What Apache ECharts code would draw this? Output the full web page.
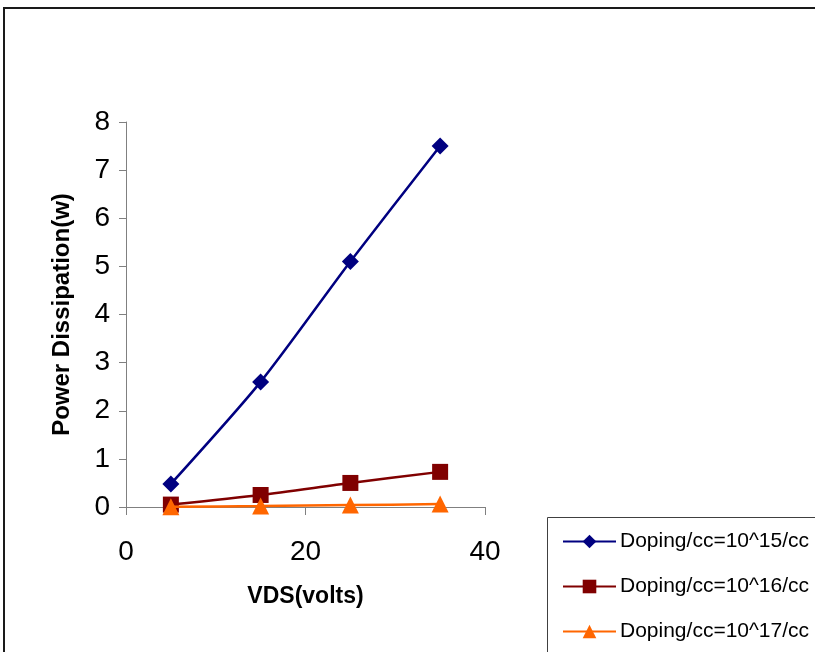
<!DOCTYPE html>
<html>
<head>
<meta charset="utf-8">
<script src="https://cdn.jsdelivr.net/npm/echarts@6/dist/echarts.min.js"></script>
<style>html,body{margin:0;padding:0;background:#fff}#c{width:815px;height:652px}</style>
</head>
<body>
<div id="c"></div>
<script>
var vds = [5, 15, 25, 35];
var doping15 = [0.48, 2.6, 5.1, 7.5];
var doping16 = [0.05, 0.25, 0.5, 0.73];
var doping17 = [0.005, 0.02, 0.04, 0.06];
var seriesNames = ['Doping/cc=10^15/cc', 'Doping/cc=10^16/cc', 'Doping/cc=10^17/cc'];
var xTitle = 'VDS(volts)';
var yTitle = 'Power Dissipation(w)';

function pairs(ys){ return vds.map(function(x,i){ return [x, ys[i]]; }); }

var chart = echarts.init(document.getElementById('c'), null, {renderer:'canvas'});
var font = 'Arial, "Liberation Sans", sans-serif';
chart.setOption({
  animation: false,
  backgroundColor: '#fff',
  textStyle: {fontFamily: font},
  graphic: [
    {type:'rect', shape:{x:4, y:8, width:830, height:670}, style:{fill:'none', stroke:'#1a1a1a', lineWidth:2}, z:-1},
    {type:'rect', shape:{x:547.5, y:517.5, width:300, height:160}, style:{fill:'#fff', stroke:'#404040', lineWidth:1}, z:0}
  ],
  grid: {left:126, right:330, top:122, bottom:145},
  xAxis: {
    type:'value', min:0, max:40, interval:20,
    name: xTitle, nameLocation:'middle', nameGap:78,
    nameTextStyle:{fontSize:23, fontWeight:'bold', color:'#000', fontFamily:font},
    axisLine:{show:true, onZero:false, lineStyle:{color:'#808080', width:1}},
    axisTick:{show:true, inside:false, length:8, lineStyle:{color:'#808080'}},
    axisLabel:{fontSize:28, color:'#000', margin:31, fontFamily:font},
    splitLine:{show:false}
  },
  yAxis: {
    type:'value', min:0, max:8, interval:1,
    name: yTitle, nameLocation:'middle', nameGap:52,
    nameTextStyle:{fontSize:24, fontWeight:'bold', color:'#000', fontFamily:font},
    axisLine:{show:true, lineStyle:{color:'#808080', width:1}},
    axisTick:{show:true, inside:false, length:7, lineStyle:{color:'#808080'}},
    axisLabel:{fontSize:28, color:'#000', margin:16, fontFamily:font},
    splitLine:{show:false}
  },
  legend: {
    orient:'vertical', left:562, top:531, padding:0,
    itemWidth:53, itemHeight:17, itemGap:24,
    textStyle:{fontSize:21, color:'#000', fontFamily:font, padding:[0,0,0,-1]},
    data: seriesNames
  },
  series: [
    {name:seriesNames[0], type:'line', data:pairs(doping15), smooth:0.25,
     symbol:'diamond', symbolSize:17, color:'#000080',
     lineStyle:{width:2.5, color:'#000080'}, itemStyle:{color:'#000080'}, z:3},
    {name:seriesNames[1], type:'line', data:pairs(doping16), smooth:0.25,
     symbol:'rect', symbolSize:16, color:'#800000',
     lineStyle:{width:2.5, color:'#800000'}, itemStyle:{color:'#800000'}, z:4},
    {name:seriesNames[2], type:'line', data:pairs(doping17), smooth:0.25,
     symbol:'triangle', symbolSize:17, color:'#FF6600',
     lineStyle:{width:2.5, color:'#FF6600'}, itemStyle:{color:'#FF6600'}, z:5}
  ]
});
</script>
</body>
</html>
